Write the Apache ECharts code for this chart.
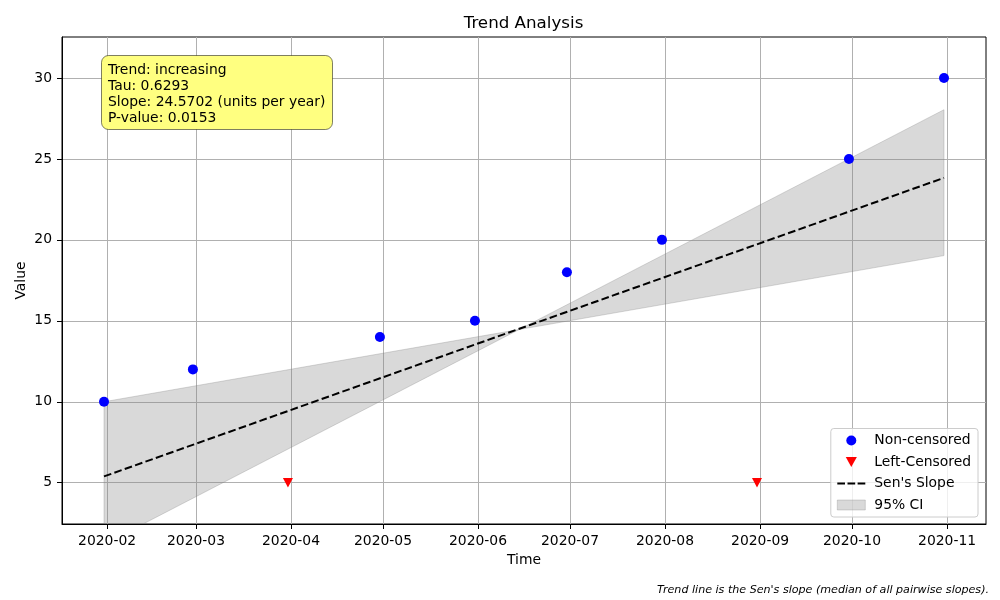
<!DOCTYPE html>
<html>
<head>
<meta charset="utf-8">
<script src="https://cdn.jsdelivr.net/npm/echarts@6/dist/echarts.min.js"></script>
<style>html,body{margin:0;padding:0;background:#fff}#c{width:1000px;height:600px}</style>
</head>
<body>
<div id="c"></div>
<script>
// ---- data ----
const dates = ['2020-01-31','2020-02-29','2020-03-31','2020-04-30','2020-05-31','2020-06-30','2020-07-31','2020-08-31','2020-09-30','2020-10-31'];
const values = [10, 12, 5, 14, 15, 18, 20, 5, 25, 30];
const censored = [false, false, true, false, false, false, false, true, false, false];
const lineDates = ['2020-01-31', '2020-10-31'];
const senSlope = [5.39, 23.83];
const ciLineA = [10.0, 19.03];
const ciLineB = [1.2, 28.04];
const tickLabels = ['2020-02','2020-03','2020-04','2020-05','2020-06','2020-07','2020-08','2020-09','2020-10','2020-11'];
const yTicks = [5, 10, 15, 20, 25, 30];
const statsLines = ['Trend: increasing', 'Tau: 0.6293', 'Slope: 24.5702 (units per year)', 'P-value: 0.0153'];
const footnote = "Trend line is the Sen's slope (median of all pairwise slopes).";

// ---- helpers ----
function ts(s) { const p = s.split('-').map(Number); return new Date(p[0], p[1] - 1, p[2] || 1).getTime(); }
const tickTs = tickLabels.map(ts);
const t0 = ts(dates[0]), t1 = ts(dates[dates.length - 1]);
const span = t1 - t0;
const FONT = 'DejaVu Sans';
const FS = 13.9;

const nonCens = [], leftCens = [];
dates.forEach((d, i) => { (censored[i] ? leftCens : nonCens).push([ts(d), values[i]]); });
const senData = lineDates.map((d, i) => [ts(d), senSlope[i]]);
const ciData = lineDates.map((d, i) => [ts(d), ciLineA[i], ciLineB[i]]);

function fmtMonth(v) {
  let best = 0, bd = Infinity;
  tickTs.forEach((t, i) => { const dd = Math.abs(t - v); if (dd < bd) { bd = dd; best = i; } });
  return tickLabels[best];
}

const bandColor = 'rgba(128,128,128,0.3)';
function renderBand(params, api) {
  const j = params.dataIndexInside;
  if (j >= params.dataInsideLength - 1) return null;
  const xa = api.value(0, j), xb = api.value(0, j + 1);
  const pts = [
    api.coord([xa, api.value(1, j)]),
    api.coord([xb, api.value(1, j + 1)]),
    api.coord([xb, api.value(2, j + 1)]),
    api.coord([xa, api.value(2, j)])
  ];
  const cs = params.coordSys;
  return {
    type: 'polygon',
    shape: { points: pts },
    style: { fill: bandColor, stroke: bandColor, lineWidth: 1 },
    clipPath: { type: 'rect', shape: { x: cs.x, y: cs.y, width: cs.width, height: cs.height } }
  };
}

const chart = echarts.init(document.getElementById('c'), null, { renderer: 'canvas' });
chart.setOption({
  animation: false,
  backgroundColor: '#fff',
  textStyle: { fontFamily: FONT },
  title: [
    { text: 'Trend Analysis', left: 523.5, top: 15.5, textAlign: 'center', padding: 0,
      textStyle: { fontFamily: FONT, fontSize: 16.7, fontWeight: 'normal', color: '#000' } },
    { text: statsLines.join('\n'), left: 101, top: 55, padding: [7, 7, 4, 7],
      backgroundColor: '#ffff80', borderColor: 'rgba(0,0,0,0.5)', borderWidth: 1, borderRadius: 7,
      textStyle: { fontFamily: FONT, fontSize: FS, fontWeight: 'normal', color: '#000', lineHeight: 16 }, z: 10 }
  ],
  graphic: [
    { type: 'text', x: 989, y: 590, style: { text: footnote, font: 'italic 11.1px "DejaVu Sans"', fill: '#000', textAlign: 'right', textVerticalAlign: 'middle' } }
  ],
  grid: { left: 62, right: 14, top: 37, bottom: 76, show: true, borderColor: '#000', borderWidth: 1, backgroundColor: 'transparent', outerBoundsMode: 'none' },
  legend: {
    orient: 'vertical', right: 22, bottom: 83,
    itemWidth: 28, itemHeight: 10, itemGap: 7.5,
    padding: [5, 7, 5, 6],
    backgroundColor: 'rgba(255,255,255,0.8)', borderColor: '#cccccc', borderWidth: 1, borderRadius: 3,
    textStyle: { fontFamily: FONT, fontSize: FS, color: '#000', padding: [0, 0, 0, 4] },
    data: [
      'Non-censored',
      { name: 'Left-Censored', icon: 'path://M0,0L10,0L5,9Z', itemStyle: { color: '#ff0000' } },
      { name: "Sen's Slope", icon: 'path://M0,0h7.7v2h-7.7zM10.2,0h7.7v2h-7.7zM20.3,0h7.7v2h-7.7z', itemStyle: { color: '#000' } },
      { name: '95% CI', icon: 'rect', itemStyle: { color: bandColor, borderColor: bandColor, borderWidth: 1 } }
    ]
  },
  xAxis: {
    type: 'value', min: t0 - 0.05 * span, max: t1 + 0.05 * span,
    name: 'Time', nameLocation: 'middle', nameGap: 29,
    nameTextStyle: { fontFamily: FONT, fontSize: FS, color: '#000' },
    axisLine: { show: true, lineStyle: { color: '#000', width: 1 } },
    axisTick: { show: true, length: 5, lineStyle: { color: '#000', width: 1 }, customValues: tickTs },
    axisLabel: { customValues: tickTs, color: '#000', fontSize: FS, fontFamily: FONT, margin: 10, formatter: fmtMonth },
    splitLine: { show: true, lineStyle: { color: '#b0b0b0', width: 1 } }
  },
  yAxis: {
    type: 'value', min: 2.45, max: 32.53,
    name: 'Value', nameLocation: 'middle', nameGap: 33.5, nameRotate: 90, nameMoveOverlap: false,
    nameTextStyle: { fontFamily: FONT, fontSize: FS, color: '#000' },
    axisLine: { show: true, lineStyle: { color: '#000', width: 1 } },
    axisTick: { show: true, length: 5, lineStyle: { color: '#000', width: 1 }, customValues: yTicks },
    axisLabel: { customValues: yTicks, color: '#000', fontSize: FS, fontFamily: FONT, margin: 10 },
    splitLine: { show: true, lineStyle: { color: '#b0b0b0', width: 1 } }
  },
  series: [
    { name: '95% CI', type: 'custom', data: ciData, encode: { x: 0, y: [1, 2] }, renderItem: renderBand,
      itemStyle: { color: bandColor }, clip: true, silent: true, z: 1 },
    { name: "Sen's Slope", type: 'line', data: senData, symbol: 'none', itemStyle: { color: '#000' },
      lineStyle: { color: '#000', width: 2, type: [7.7, 3.3] }, z: 2 },
    { name: 'Non-censored', type: 'scatter', data: nonCens, symbol: 'circle', symbolSize: 10,
      itemStyle: { color: '#0000ff', opacity: 1 }, z: 3 },
    { name: 'Left-Censored', type: 'scatter', data: leftCens, symbol: 'triangle', symbolRotate: 180, symbolSize: [10, 9.5],
      itemStyle: { color: '#ff0000', opacity: 1 }, z: 3 }
  ]
});
</script>
</body>
</html>
